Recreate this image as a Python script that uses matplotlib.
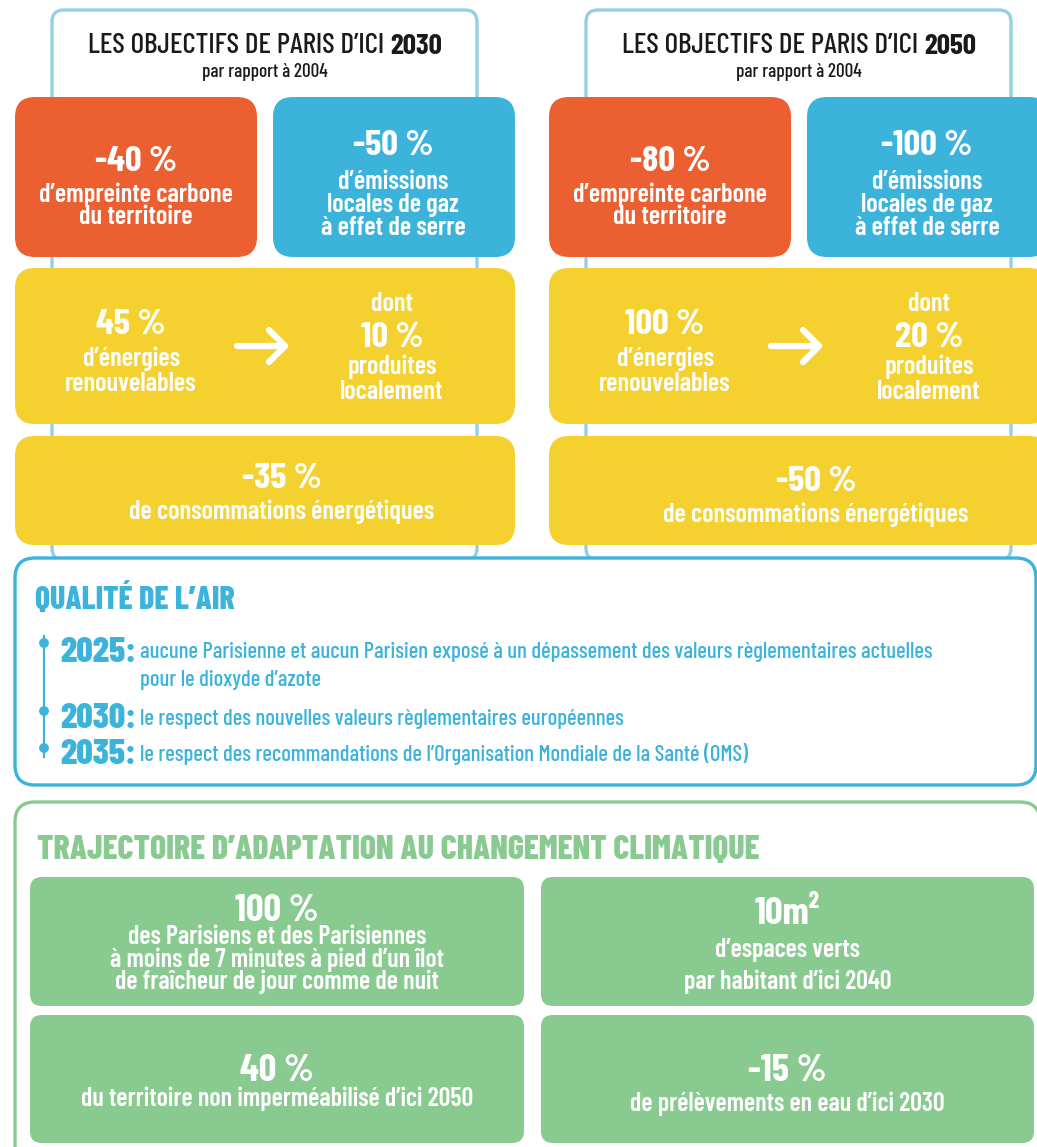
import matplotlib
matplotlib.use("Agg")
import matplotlib.pyplot as plt
from matplotlib.patches import FancyBboxPatch, Circle
from matplotlib import font_manager

# ────────────────────────────────────────────────────────────────
# DATA
# ────────────────────────────────────────────────────────────────
years = ["2030", "2050"]
carbon_values = ["-40 %", "-80 %"]
ghg_values = ["-50 %", "-100 %"]
renewable_values = ["45 %", "100 %"]
local_values = ["10 %", "20 %"]
consumption_values = ["-35 %", "-50 %"]

carbon_label = ["d’empreinte carbone", "du territoire"]
ghg_label = ["d’émissions", "locales de gaz", "à effet de serre"]
renewable_label = ["d’énergies", "renouvelables"]
local_label = ["produites", "localement"]
consumption_label = "de consommations énergétiques"

air_years = ["2025", "2030", "2035"]
air_texts = [
    ["aucune Parisienne et aucun Parisien exposé à un dépassement des valeurs règlementaires actuelles",
     "pour le dioxyde d’azote"],
    ["le respect des nouvelles valeurs règlementaires européennes"],
    ["le respect des recommandations de l’Organisation Mondiale de la Santé (OMS)"],
]

adapt_values = ["100 %", "10m²", "40 %", "-15 %"]
adapt_texts = [
    ["des Parisiens et des Parisiennes", "à moins de 7 minutes à pied d’un îlot",
     "de fraîcheur de jour comme de nuit"],
    ["d’espaces verts", "par habitant d’ici 2040"],
    ["du territoire non imperméabilisé d’ici 2050"],
    ["de prélèvements en eau d’ici 2030"],
]

# ────────────────────────────────────────────────────────────────
# STYLE
# ────────────────────────────────────────────────────────────────
ORANGE = "#EC5F30"
BLUE = "#3CB3DB"
YELLOW = "#F5D130"
GREEN = "#88CA90"
LIGHTBLUE = "#94CFE8"
DARK = "#1a1a1a"

installed = {f.name for f in font_manager.fontManager.ttflist}
FONT = "Barlow Condensed" if "Barlow Condensed" in installed else "DejaVu Sans"
plt.rcParams["font.family"] = [FONT, "DejaVu Sans"]

W, H = 1037, 1147
fig = plt.figure(figsize=(W / 100, H / 100), dpi=100)
ax = fig.add_axes([0, 0, 1, 1])
ax.set_xlim(0, W)
ax.set_ylim(H, 0)
ax.axis("off")

VSHIFT = 3  # va="center" includes descenders, nudge text down a bit


def rbox(x0, y0, x1, y1, r, fc="none", ec="none", lw=0, z=1):
    ax.add_patch(FancyBboxPatch((x0, y0), x1 - x0, y1 - y0,
                                boxstyle=f"round,pad=0,rounding_size={r}",
                                fc=fc, ec=ec, lw=lw, zorder=z))


def txt(x, y, s, size, color="white", weight=600, ha="center", z=5):
    return ax.text(x, y + VSHIFT, s, fontsize=size, color=color, fontweight=weight,
                   ha=ha, va="center", zorder=z)


renderer = fig.canvas.get_renderer()


def width_px(t):
    return t.get_window_extent(renderer).width


BIG = 26.5    # key figures
BODY = 19     # labels inside coloured boxes
GBODY = 18.7  # labels inside green boxes

# ────────────────────────────────────────────────────────────────
# TOP: 2030 / 2050 COLUMNS
# ────────────────────────────────────────────────────────────────
col_x = [15, 549]
for i, x0 in enumerate(col_x):
    dy = 0 if i == 0 else 3
    # header frame
    rbox(x0 + 37, 10, x0 + 462, 560, 12, fc="white", ec=LIGHTBLUE, lw=2.4, z=1)
    # title in two weights, centred
    cx = x0 + 250
    t1 = txt(0, 43, "LES OBJECTIFS DE PARIS D’ICI ", 21, color=DARK, weight=500, ha="left")
    t2 = txt(0, 43, years[i], 21, color=DARK, weight=700, ha="left")
    w1, w2 = width_px(t1), width_px(t2)
    left = cx - (w1 + w2) / 2
    t1.set_x(left)
    t2.set_x(left + w1)
    txt(cx, 69, "par rapport à 2004", 13.8, color=DARK, weight=500)

    # orange box
    rbox(x0, 97, x0 + 242, 257, 20, fc=ORANGE, z=2)
    ocx = x0 + 121
    txt(ocx, 159, carbon_values[i], BIG, weight=700)
    for k, line in enumerate(carbon_label):
        txt(ocx, 192 + 22 * k, line, BODY)

    # blue box
    rbox(x0 + 258, 97, x0 + 500, 257, 20, fc=BLUE, z=2)
    bcx = x0 + 378
    txt(bcx, 143, ghg_values[i], BIG, weight=700)
    for k, line in enumerate(ghg_label):
        txt(bcx, 179 + 23 * k, line, BODY)

    # renewable box
    rbox(x0, 268, x0 + 500, 424, 20, fc=YELLOW, z=2)
    rcx = x0 + 116
    txt(rcx, 322, renewable_values[i], BIG, weight=700)
    for k, line in enumerate(renewable_label):
        txt(rcx, 356 + 25 * k, line, BODY)
    ax.plot([x0 + 222, x0 + 270], [346, 346], color="white", lw=4.5,
            solid_capstyle="round", zorder=5)
    ax.plot([x0 + 254, x0 + 270, x0 + 254], [330, 346, 362], color="white", lw=4.5,
            solid_capstyle="round", solid_joinstyle="round", zorder=5)
    lcx = x0 + 377 + (i * 3)
    txt(lcx, 301, "dont", BODY)
    txt(lcx, 335, local_values[i], BIG, weight=700)
    for k, line in enumerate(local_label):
        txt(lcx, 364 + 25 * k, line, BODY)

    # consumption box
    rbox(x0, 436, x0 + 500, 545, 20, fc=YELLOW, z=2)
    ccx = x0 + 267
    txt(ccx, 476 + dy, consumption_values[i], BIG, weight=700)
    txt(ccx, 509 + dy, consumption_label, BODY)

# ────────────────────────────────────────────────────────────────
# AIR QUALITY
# ────────────────────────────────────────────────────────────────
rbox(15, 558, 1036, 785, 20, fc="white", ec=BLUE, lw=2.4, z=1)
txt(35, 596, "QUALITÉ DE L’AIR", 23, color=BLUE, weight=800, ha="left")

ax.plot([44, 44], [636, 757], color=BLUE, lw=1.6, zorder=3)
air_y = [649, 716, 751]
dot_y = [643, 711, 748]
for k in range(3):
    ax.add_patch(Circle((44, dot_y[k]), 4.2, color=BLUE, zorder=4))
    ty = txt(60, air_y[k], air_years[k] + ":", 26, color=BLUE, weight=800, ha="left")
    tx = 60 + width_px(ty) + 4
    for j, line in enumerate(air_texts[k]):
        txt(tx, air_y[k] + 28 * j, line, 16.3, color=BLUE, weight=500, ha="left")

# ────────────────────────────────────────────────────────────────
# ADAPTATION
# ────────────────────────────────────────────────────────────────
rbox(15, 802, 1040, 1170, 20, fc="white", ec=GREEN, lw=2.4, z=1)
txt(37, 847, "TRAJECTOIRE D’ADAPTATION AU CHANGEMENT CLIMATIQUE", 24.4, color=GREEN,
    weight=800, ha="left")

boxes = [(30, 877, 524, 1006), (541, 877, 1034, 1006),
         (30, 1015, 524, 1143), (541, 1015, 1034, 1143)]
value_y = [908, 911, 1068, 1068]
text_y = [[934, 957, 979], [947, 979], [1096], [1101]]
for k, (x0, y0, x1, y1) in enumerate(boxes):
    rbox(x0, y0, x1, y1, 12, fc=GREEN, z=2)
    cx = (x0 + x1) / 2
    txt(cx, value_y[k], adapt_values[k], 28, weight=700)
    for j, line in enumerate(adapt_texts[k]):
        txt(cx, text_y[k][j], line, GBODY)

fig.savefig("out.png", dpi=100)
